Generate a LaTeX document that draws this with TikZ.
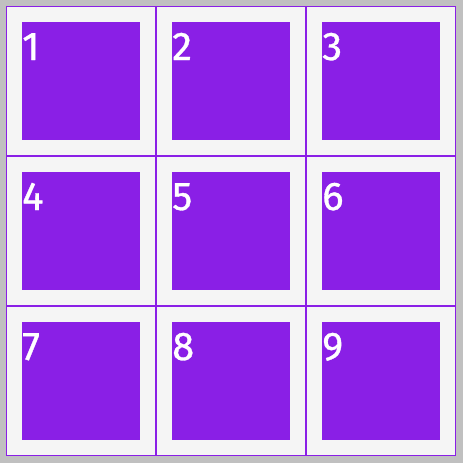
\documentclass[tikz,border=0pt]{standalone}
\usepackage{fontspec}
\setmainfont{Fira Sans}
\newfontfamily\digitfont{Fira Sans}[FakeBold=0.8]
\definecolor{grayout}{HTML}{C0C0C0}
\definecolor{bgin}{HTML}{F5F5F5}
\definecolor{purp}{HTML}{8A1FE6}
\begin{document}
\begin{tikzpicture}[x=1pt,y=-1pt,
  cellbox/.style={fill=purp,draw=none},
  digit/.style={text=white,font=\digitfont\fontsize{40}{40}\selectfont,anchor=base west,inner sep=0pt}]
\useasboundingbox (0,0) rectangle (463,463);
\fill[grayout] (0,0) rectangle (463,463);
\fill[bgin] (6,6) rectangle (456,456);
\foreach \r in {0,1,2}{
  \foreach \c in {0,1,2}{
    \pgfmathtruncatemacro{\n}{\r*3+\c+1}
    \fill[purp] (22+150*\c,22+150*\r) rectangle (140+150*\c,140+150*\r);
    \node[digit] (d\n) at (22+150*\c,60+150*\r) {\n};
  }
}
\draw[purp,line width=1.2pt] (6.5,6.5) rectangle (455.5,455.5);
\draw[purp,line width=1.5pt] (156,6) -- (156,456) (306,6) -- (306,456)
  (6,156) -- (456,156) (6,306) -- (456,306);
\end{tikzpicture}
\end{document}
